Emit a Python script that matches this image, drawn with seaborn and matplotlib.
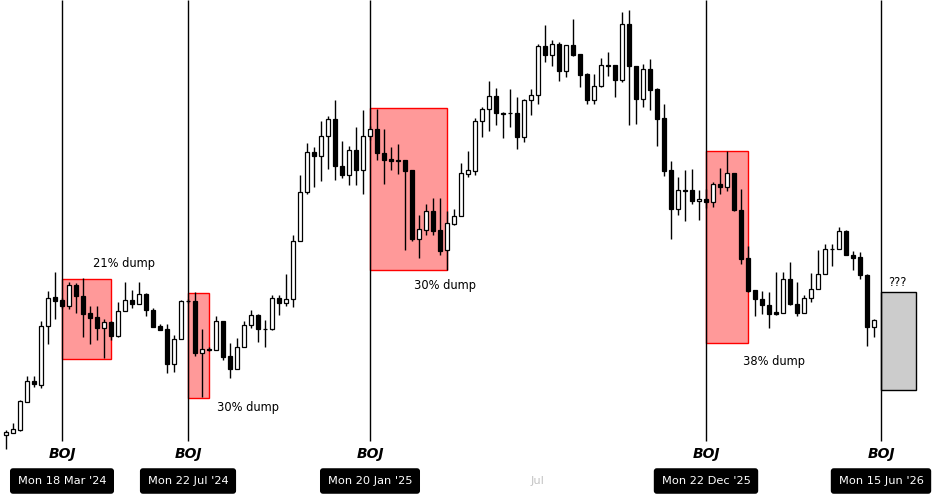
import numpy as np
import pandas as pd
import matplotlib.pyplot as plt
import matplotlib.transforms as mtransforms
from matplotlib.patches import Rectangle
import seaborn as sns

# weekly candles, price in thousands of USD
first_week = "2024-01-22"
opens = [41.2, 41.7, 42.2, 47.9, 52.0, 51.2, 63.0, 68.7, 68.2, 67.0,
         71.2, 69.1, 65.7, 64.8, 62.7, 63.8, 61.0, 65.9, 68.2, 67.5,
         69.5, 66.3, 63.0, 62.4, 55.5, 60.5, 68.0, 68.0, 57.7, 58.4,
         58.2, 64.0, 57.0, 54.5, 58.9, 63.3, 65.3, 62.5, 62.4, 68.7,
         67.7, 68.5, 80.1, 89.7, 97.7, 97.1, 101.0, 104.4, 95.0, 93.3,
         98.2, 94.3, 101.0, 102.3, 97.5, 96.4, 96.1, 96.2, 94.2, 80.4,
         82.2, 86.0, 82.2, 78.1, 83.5, 84.9, 93.5, 94.1, 103.9, 106.3,
         109.0, 105.5, 105.5, 105.5, 100.7, 108.1, 109.1, 119.0, 117.1, 119.3,
         113.9, 119.1, 117.4, 113.4, 108.1, 110.9, 115.1, 115.1, 112.1, 123.3,
         115.0, 108.4, 114.4, 110.4, 104.5, 94.1, 86.4, 90.2, 90.2, 87.9,
         88.4, 87.7, 91.4, 90.7, 93.5, 86.3, 76.5, 70.2, 68.5, 67.3,
         65.7, 65.7, 72.5, 67.5, 65.7, 68.7, 70.5, 73.5, 78.4, 78.4,
         82.0, 77.2, 76.7, 73.3, 62.9]
highs = [42.2, 43.6, 48.2, 52.9, 52.9, 64.0, 69.9, 73.7, 68.6, 71.7,
         71.5, 72.5, 66.9, 66.9, 64.3, 64.0, 67.7, 71.7, 70.2, 71.7,
         69.5, 66.5, 63.4, 63.4, 61.2, 68.2, 68.4, 69.7, 62.4, 58.8,
         64.9, 64.0, 59.5, 60.5, 64.0, 66.2, 65.3, 64.2, 69.2, 69.2,
         73.4, 81.2, 93.2, 99.5, 98.7, 104.0, 105.0, 108.2, 99.9, 98.9,
         102.7, 106.2, 103.0, 106.3, 102.3, 98.7, 99.3, 96.2, 94.2, 85.2,
         87.3, 88.5, 88.5, 86.0, 86.3, 95.5, 97.9, 104.5, 106.7, 112.0,
         110.5, 105.8, 110.4, 108.7, 108.3, 110.4, 119.4, 123.2, 120.2, 119.7,
         119.1, 124.4, 117.4, 113.5, 113.4, 116.5, 117.7, 115.2, 125.7, 126.2,
         115.0, 115.4, 116.4, 110.5, 107.4, 95.9, 92.7, 94.1, 94.4, 90.2,
         90.4, 91.7, 94.5, 97.9, 93.6, 90.3, 79.0, 70.2, 69.9, 69.7,
         73.7, 73.7, 75.7, 71.7, 69.1, 73.5, 78.2, 79.4, 79.4, 82.7,
         82.2, 77.9, 77.7, 73.3, 64.3]
lows = [38.4, 41.7, 42.0, 47.8, 50.7, 50.6, 59.3, 64.3, 66.6, 66.3,
        65.6, 60.7, 59.4, 60.2, 56.5, 60.1, 60.7, 65.9, 66.5, 67.5,
        65.0, 62.8, 62.2, 53.5, 53.7, 60.5, 67.6, 57.0, 48.9, 58.0,
        58.2, 56.2, 52.5, 54.5, 58.9, 62.5, 59.7, 58.7, 62.2, 65.1,
        66.9, 66.7, 80.1, 89.3, 90.7, 91.9, 94.3, 92.2, 92.5, 91.2,
        91.1, 89.3, 100.2, 96.2, 91.3, 94.1, 93.3, 78.1, 79.9, 76.5,
        81.2, 81.1, 77.1, 74.1, 83.2, 84.9, 92.7, 93.2, 100.7, 102.0,
        103.1, 100.5, 102.7, 98.3, 99.7, 105.1, 107.4, 115.7, 114.9, 111.9,
        112.7, 116.9, 110.7, 107.3, 107.3, 110.7, 112.9, 108.7, 111.7, 103.1,
        103.4, 106.7, 106.2, 98.9, 92.9, 80.4, 85.2, 83.9, 87.4, 84.2,
        86.5, 86.7, 89.3, 89.9, 86.0, 75.4, 69.8, 64.9, 65.4, 62.5,
        65.1, 65.7, 67.2, 64.9, 65.7, 67.7, 70.5, 73.5, 74.9, 78.4,
        77.1, 74.1, 72.3, 58.9, 60.7]
closes = [41.8, 42.4, 48.0, 52.0, 51.4, 63.0, 68.7, 68.1, 66.9, 71.2,
          69.1, 65.5, 64.7, 62.7, 63.8, 61.1, 65.9, 68.1, 67.5, 69.5,
          66.3, 62.9, 62.3, 55.5, 60.5, 68.0, 67.9, 57.7, 58.4, 58.3,
          64.0, 56.9, 54.5, 58.9, 63.3, 65.3, 62.5, 62.4, 68.7, 67.7,
          68.5, 80.1, 89.7, 97.7, 97.1, 101.0, 104.4, 94.9, 93.3, 98.2,
          94.3, 101.0, 102.3, 97.5, 96.3, 95.9, 96.0, 93.9, 80.4, 82.3,
          86.0, 82.1, 78.0, 83.5, 85.0, 93.5, 94.2, 104.0, 106.3, 109.0,
          105.5, 105.4, 105.6, 100.7, 108.1, 109.2, 119.0, 117.1, 119.3, 113.9,
          119.1, 117.2, 113.2, 108.1, 111.0, 115.1, 115.0, 112.2, 123.3, 114.9,
          108.4, 114.4, 110.2, 104.4, 93.9, 86.4, 90.2, 90.1, 87.9, 88.4,
          87.7, 91.4, 90.7, 93.5, 86.2, 76.5, 69.9, 68.5, 67.3, 65.5,
          65.4, 72.5, 67.5, 65.7, 68.7, 70.5, 73.5, 78.4, 78.3, 82.0,
          77.1, 76.7, 73.3, 62.9, 64.3]

boj_dates = ["2024-03-18", "2024-07-22", "2025-01-20", "2025-12-22", "2026-06-15"]
boj_labels = ["Mon 18 Mar '24", "Mon 22 Jul '24", "Mon 20 Jan '25",
              "Mon 22 Dec '25", "Mon 15 Jun '26"]

dump_starts = ["2024-03-18", "2024-07-22", "2025-01-20", "2025-12-22"]
dump_weeks = [7, 3, 11, 6]
dump_tops = [72.5, 69.7, 106.5, 98.0]
dump_bottoms = [56.5, 48.7, 74.2, 59.7]
dump_texts = ["21% dump", "30% dump", "30% dump", "38% dump"]

next_start = "2026-06-15"
next_weeks = 5
next_top, next_bottom = 69.7, 50.3


def xpos(d):
    return (pd.Timestamp(d) - pd.Timestamp(first_week)).days / 7


df = pd.DataFrame({"open": opens, "high": highs, "low": lows, "close": closes})
df["x"] = np.arange(len(df))
df["up"] = df["close"] >= df["open"]

sns.set_theme(style="white")
plt.rcParams["font.family"] = ["DejaVu Sans"]

fig = plt.figure(figsize=(9.41, 4.97), dpi=100)
ax = fig.add_axes([0, 45 / 497, 1, 452 / 497])
ax.set_xlim(-6 / 7, 935 / 7)
ax.set_ylim(37.8, 128.2)
ax.set_axis_off()

# dump boxes (behind candles)
for d, w, top, bot in zip(dump_starts, dump_weeks, dump_tops, dump_bottoms):
    ax.add_patch(Rectangle((xpos(d), bot), w, top - bot, facecolor="#ff9999",
                           edgecolor="#ff0000", lw=1, zorder=1))
ax.add_patch(Rectangle((xpos(next_start), next_bottom), next_weeks,
                       next_top - next_bottom, facecolor="#cccccc",
                       edgecolor="black", lw=1, zorder=1))

# BOJ lines
ax.vlines([xpos(d) for d in boj_dates], 40.0, 128.2, color="black", lw=1, zorder=2)

# candles
ax.vlines(df["x"], df["low"], df["high"], color="black", lw=1, zorder=3)
body_lo = df[["open", "close"]].min(axis=1)
body_h = (df["close"] - df["open"]).abs()
ax.bar(df["x"], body_h, bottom=body_lo, width=0.66,
       color=np.where(df["up"], "white", "black"), edgecolor="black",
       linewidth=0.9, zorder=4)

# labels
text_spots = [(16.9, 75.4), (34.6, 46.8), (62.7, 71.0), (109.7, 55.8)]
for (tx, ty), t in zip(text_spots, dump_texts):
    ax.text(tx, ty, t, ha="center", va="center", fontsize=8.3, color="black", zorder=5)
ax.text(127.3, 71.8, "???", ha="center", va="center", fontsize=8.3, color="black")

trans = mtransforms.blended_transform_factory(ax.transData, fig.transFigure)
for d, lab in zip(boj_dates, boj_labels):
    ax.text(xpos(d), 1 - 454 / 497, "BOJ", transform=trans, ha="center", va="center",
            fontsize=10, fontweight="bold", fontstyle="italic", color="black")
    ax.text(xpos(d), 1 - 481 / 497, lab, transform=trans, ha="center", va="center",
            fontsize=8.2, color="white",
            bbox=dict(boxstyle="round,pad=0.62,rounding_size=0.2", fc="black", ec="black"))
ax.text(xpos("2025-07-07"), 1 - 481 / 497, "Jul", transform=trans, ha="center",
        va="center", fontsize=8.2, color="#c4c4c4")

fig.savefig("out.png", dpi=100, facecolor="white")
